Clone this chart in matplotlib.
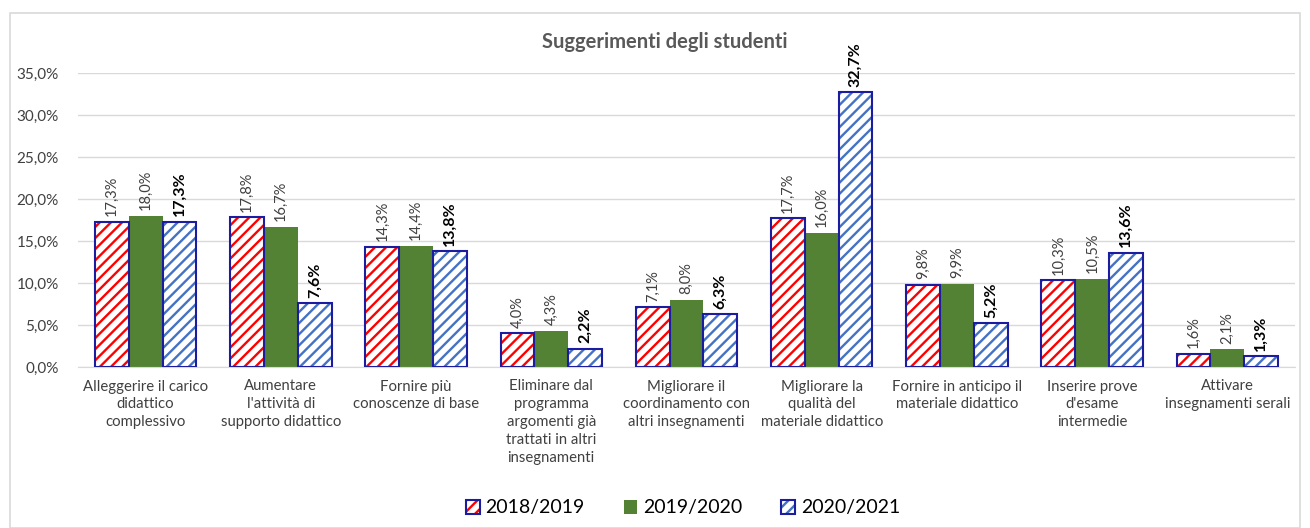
import numpy as np
import matplotlib
matplotlib.use("Agg")
import matplotlib.pyplot as plt
from matplotlib.patches import Patch, Rectangle
from matplotlib.ticker import FuncFormatter

plt.rcParams['font.family'] = ['Lato', 'DejaVu Sans']
plt.rcParams['hatch.linewidth'] = 1.7

# data
categories = [
    "Alleggerire il carico\ndidattico\ncomplessivo",
    "Aumentare\nl'attività di\nsupporto didattico",
    "Fornire più\nconoscenze di base",
    "Eliminare dal\nprogramma\nargomenti già\ntrattati in altri\ninsegnamenti",
    "Migliorare il\ncoordinamento con\naltri insegnamenti",
    "Migliorare la\nqualità del\nmateriale didattico",
    "Fornire in anticipo il\nmateriale didattico",
    "Inserire prove\nd'esame\nintermedie",
    "Attivare\ninsegnamenti serali",
]
series_names = ["2018/2019", "2019/2020", "2020/2021"]
v2018 = [17.3, 17.8, 14.3, 4.0, 7.1, 17.7, 9.8, 10.3, 1.6]
v2019 = [18.0, 16.7, 14.4, 4.3, 8.0, 16.0, 9.9, 10.5, 2.1]
v2020 = [17.3, 7.6, 13.8, 2.2, 6.3, 32.7, 5.2, 13.6, 1.3]

red = '#FF0000'
green = '#548235'
blue = '#4472C4'
navy = '#1C1CA0'
grey_txt = '#404040'

fig = plt.figure(figsize=(13.1, 5.28), dpi=100)
ax = fig.add_axes([78 / 1310, 1 - 367 / 528, (1295 - 78) / 1310, (367 - 73) / 528])

# outer frame
fig.patches.append(Rectangle((10 / 1310, 0), 1290 / 1310, 1 - 13 / 528, transform=fig.transFigure,
                             fill=False, edgecolor='#D9D9D9', linewidth=1.2))

x = np.arange(len(categories))
w = 0.25

def fmt(v):
    return f"{v:.1f}".replace('.', ',') + '%'

# hatched red bars
ax.bar(x - w, v2018, w, color='white', edgecolor=red, hatch='///', linewidth=0, zorder=2)
ax.bar(x - w, v2018, w, fill=False, edgecolor=navy, linewidth=1.5, zorder=3)
# green bars
ax.bar(x, v2019, w, color=green, linewidth=0, zorder=2)
# hatched blue bars
ax.bar(x + w, v2020, w, color='white', edgecolor=blue, hatch='///', linewidth=0, zorder=2)
ax.bar(x + w, v2020, w, fill=False, edgecolor=navy, linewidth=1.5, zorder=3)

for xs, vals, bold in [(x - w, v2018, False), (x, v2019, False), (x + w, v2020, True)]:
    for xi, v in zip(xs, vals):
        ax.annotate(fmt(v), (xi, v), xytext=(0, 4), textcoords='offset points',
                    rotation=90, ha='center', va='bottom', clip_on=False,
                    fontsize=11.5 if bold else 10.5, fontweight='bold' if bold else 'normal',
                    color='black' if bold else grey_txt)

ax.set_xlim(-0.5, len(categories) - 0.5)
ax.set_ylim(0, 35)
ax.set_yticks(np.arange(0, 36, 5))
ax.yaxis.set_major_formatter(FuncFormatter(lambda v, p: fmt(v)))
ax.set_xticks(x)
ax.set_xticklabels(categories, linespacing=1.35)
ax.tick_params(axis='both', length=0, labelcolor=grey_txt)
ax.tick_params(axis='x', pad=9, labelsize=10.7)
ax.tick_params(axis='y', pad=14, labelsize=11)
ax.grid(axis='y', color='#D9D9D9', linewidth=1, zorder=0)
ax.set_axisbelow(True)
for s in ['top', 'right', 'left']:
    ax.spines[s].set_visible(False)
ax.spines['bottom'].set_color('#D9D9D9')

fig.text(665 / 1310, 1 - 42 / 528, "Suggerimenti degli studenti", ha='center', va='center',
         fontsize=14.5, fontweight='bold', color='#595959')

handles = [
    (Patch(facecolor='white', edgecolor=red, hatch='///', linewidth=0), Patch(fill=False, edgecolor=navy, linewidth=1.5)),
    Patch(facecolor=green, linewidth=0),
    (Patch(facecolor='white', edgecolor=blue, hatch='///', linewidth=0), Patch(fill=False, edgecolor=navy, linewidth=1.5)),
]
fig.legend(handles, series_names, loc='center', bbox_to_anchor=(683 / 1310, 1 - 508 / 528),
           ncol=3, frameon=False, fontsize=14, handlelength=0.7, handleheight=0.7,
           handletextpad=0.3, columnspacing=2.0)

fig.savefig('out.png', dpi=100)
